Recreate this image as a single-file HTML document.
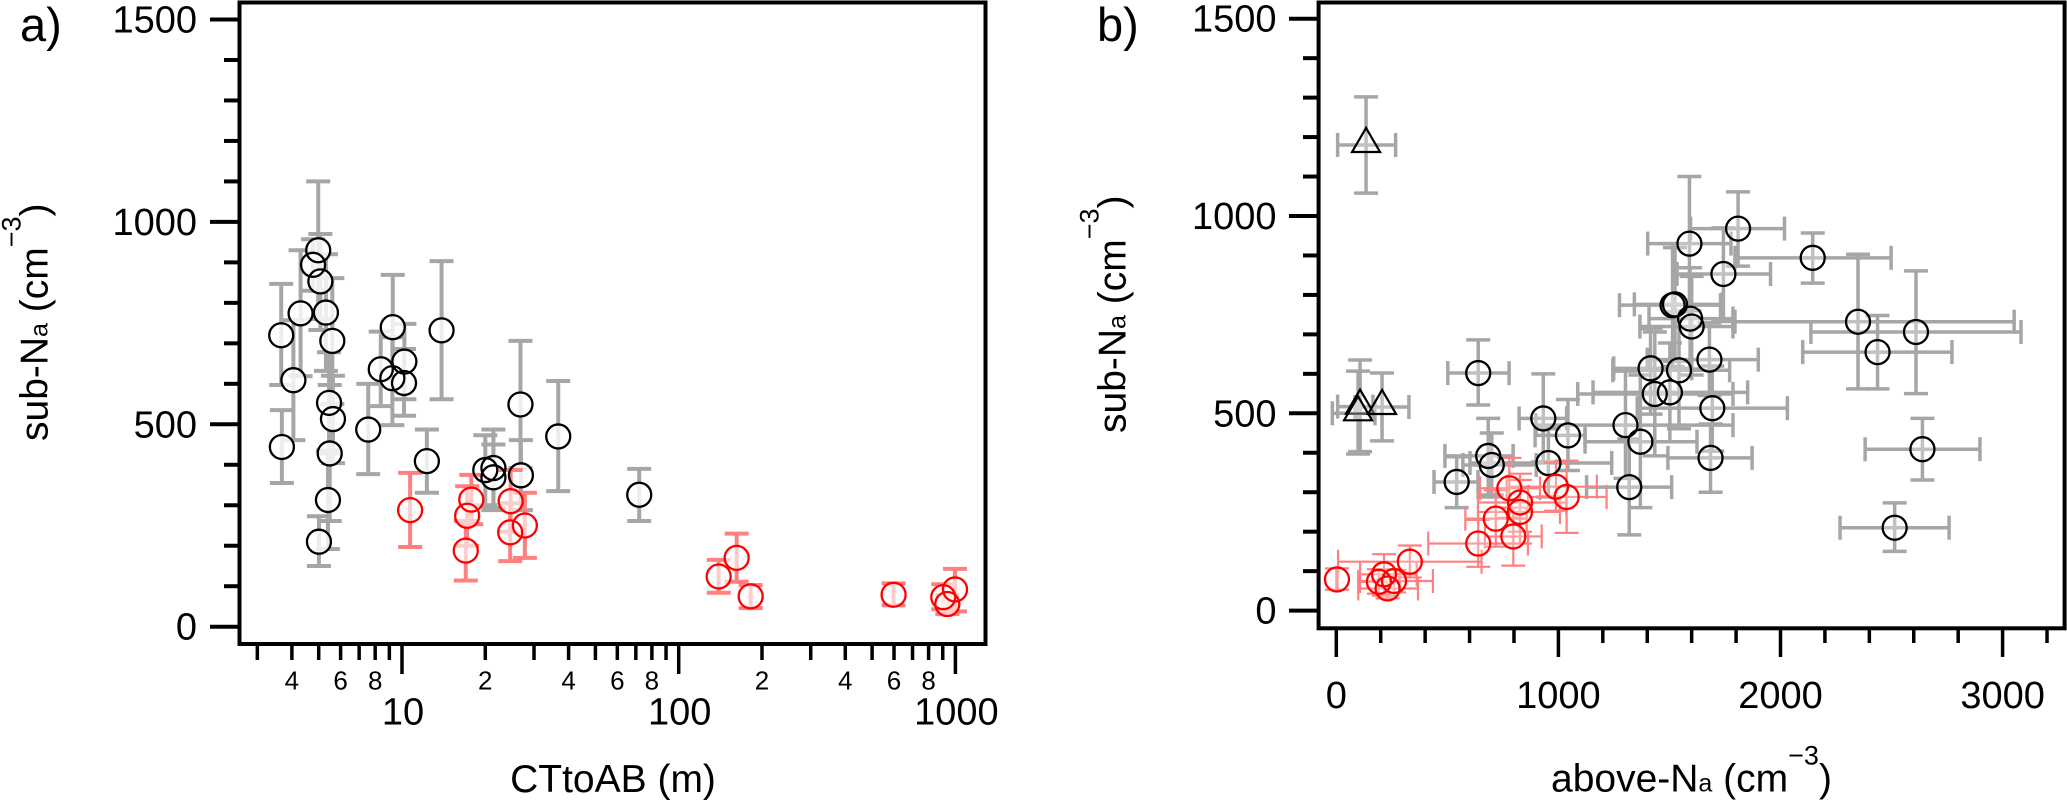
<!DOCTYPE html>
<html lang="en">
<head>
<meta charset="utf-8">
<title>sub-Na vs CTtoAB and above-Na</title>
<style>
  html, body { margin: 0; padding: 0; background: #fff; }
  svg { display: block; }
  text { font-family: "Liberation Sans", Arial, sans-serif; fill: #000; }
</style>
</head>
<body>
<svg id="chart" xmlns="http://www.w3.org/2000/svg" width="2067" height="801" viewBox="0 0 2067 801">
  <rect x="0" y="0" width="2067" height="801" fill="#fff"/>

  <g id="marks-a"></g>
  <g id="marks-b"></g>
  <g id="axes-a"></g>
  <g id="axes-b"></g>

  <rect x="239.5" y="2.5" width="746" height="641.5" fill="none" stroke="#000" stroke-width="4"/>
  <rect x="1318.6" y="2.5" width="746" height="625.8" fill="none" stroke="#000" stroke-width="4"/>

  <text x="20" y="41" font-size="47">a)</text>
  <text x="1097" y="41" font-size="47">b)</text>

  <text transform="translate(47.7,441) rotate(-90)" font-size="39">sub-N<tspan font-size="25">a</tspan> (cm<tspan font-size="27" dy="-27">−3</tspan><tspan dy="27">)</tspan></text>
  <text transform="translate(1125.7,433) rotate(-90)" font-size="39">sub-N<tspan font-size="25">a</tspan> (cm<tspan font-size="27" dy="-27">−3</tspan><tspan dy="27">)</tspan></text>
  <text x="613" y="792" font-size="39" text-anchor="middle">CTtoAB (m)</text>
  <text x="1551" y="791.7" font-size="39">above-N<tspan font-size="25">a</tspan> (cm<tspan font-size="27" dy="-27">−3</tspan><tspan dy="27">)</tspan></text>
</svg>

<script>
// ---- black circles (null CTtoAB: point appears only in panel b) ----
const blackCt      = [4.98, 4.77, 5.07, 4.30, 5.31, 3.66, 5.60, 9.26, 13.9, 10.2, 8.38, 9.23, 10.17, 4.05, 5.45, 5.63, 26.8, 3.68, 5.48, 7.55, 12.3, 36.7, 72, 26.9, 20, 21.4, 21.4, 5.40, 5.01, null];
const blackSub     = [930, 894, 853, 774, 776, 720, 706, 740, 732, 655, 636, 614, 602, 609, 553, 513, 549, 444, 428, 487, 409, 470, 326, 374, 387, 392, 369, 313, 210, 968];
const blackSubLo   = [760, 830, 733, 619, 632, 597, 550, 612, 562, 562, 545, 498, 521, 461, 428, 404, 392, 355, 261, 377, 331, 335, 261, 288, 300, 288, 293, 192, 150, 873];
const blackSubHi   = [1100, 957, 970, 930, 920, 847, 861, 869, 903, 748, 729, 715, 686, 757, 678, 620, 706, 535, 597, 600, 487, 607, 390, 461, 473, 487, 450, 435, 273, 1061];
const blackAbove   = [1590, 2145, 1743, 1514, 1525, 1600, 2610, 1593, 2349, 2437, 1680, 1415, 639, 1543, 1502, 1693, 1434, 1043, 1369, 932, 2639, 1302, 542, 955, 1685, 684, 700, 1319, 2514, 1809];
const blackAboveLo = [1402, 1795, 1534, 1275, 1342, 1367, 2137, 1408, 1795, 2100, 1400, 1249, 502, 1245, 1156, 1355, 1087, 895, 1120, 823, 2381, 899, 440, 602, 1493, 489, 570, 1127, 2268, 1595];
const blackAboveHi = [1777, 2498, 1955, 1730, 1737, 1786, 3083, 1786, 3052, 2772, 1900, 1600, 778, 1771, 1852, 2031, 1786, 1120, 1624, 1037, 2898, 1786, 638, 1240, 1872, 796, 900, 1510, 2759, 2018];

// ---- red circles ----
const redCt      = [10.7, 17.8, 17.2, 17.0, 24.7, 24.6, 27.8, 162, 139.5, 182, 598, 997, 904, 935];
const redSub     = [288, 314, 274, 188, 310, 233, 250, 170, 124, 75, 79, 92, 73, 56];
const redSubLo   = [197, 253, 200, 114, 235, 162, 170, 111, 84, 46, 53, 38, 43, 31];
const redSubHi   = [380, 375, 347, 261, 387, 305, 331, 230, 165, 103, 107, 143, 105, 78];
const redAbove   = [1037, 989, 827, 797, 779, 718, 827, 639, 331, 260, 3, 215, 192, 231];
const redAboveLo = [863, 767, 638, 669, 647, 581, 638, 414, 8, 107, 0, 107, 99, 99];
const redAboveHi = [1217, 1173, 1035, 925, 917, 857, 1007, 863, 654, 435, 6, 362, 286, 368];

// ---- triangles (panel b only) ----
const triAbove   = [134, 107, 98, 206];
const triAboveLo = [6, 6, -18, 84];
const triAboveHi = [267, 165, 174, 327];
const triSub     = [1180, 517, 500, 516];
const triSubLo   = [1058, 403, 397, 430];
const triSubHi   = [1302, 635, 607, 602];

// ---- ticks ----
const yMajorTicks = [0, 500, 1000, 1500];
const yMinorTicks = [100, 200, 300, 400, 600, 700, 800, 900, 1100, 1200, 1300, 1400];
const logMinorTicks = [3, 4, 5, 6, 7, 8, 9, 20, 30, 40, 50, 60, 70, 80, 90, 200, 300, 400, 500, 600, 700, 800, 900];
const logMinorLabels = [[4, "4"], [6, "6"], [8, "8"], [20, "2"], [40, "4"], [60, "6"], [80, "8"], [200, "2"], [400, "4"], [600, "6"], [800, "8"]];
const logMajorTicks = [10, 100, 1000];
const bXMajorTicks = [0, 1000, 2000, 3000];
const bXMinorTicks = [200, 400, 600, 800, 1200, 1400, 1600, 1800, 2200, 2400, 2600, 2800, 3200];

// ---- axis functions ----
function xA(v) { return 402 + 276.7 * (Math.log10(v) - 1); }
function yA(v) { return 626.7 - 0.4048 * v; }
function xB(v) { return 1336.3 + 0.2221 * v; }
function yB(v) { return 610.6 - 0.3946 * v; }

const NS = "http://www.w3.org/2000/svg";
function mk(parent, tag, attrs) {
  const el = document.createElementNS(NS, tag);
  for (const k in attrs) el.setAttribute(k, attrs[k]);
  parent.appendChild(el);
  return el;
}
function line(parent, x1, y1, x2, y2, color, width) {
  return mk(parent, "line", { x1: x1, y1: y1, x2: x2, y2: y2, stroke: color, "stroke-width": width });
}

const CAP = 12;
const GRAY = "#a6a6a6";
const PINK = "#ff8080";

function verticalError(parent, px, pyLo, pyHi, color, w) {
  const g = mk(parent, "g", {});
  
  
  line(g, px, pyLo, px, pyHi, color, w);
  line(g, px - CAP, pyLo, px + CAP, pyLo, color, w);
  line(g, px - CAP, pyHi, px + CAP, pyHi, color, w);
}
function horizontalError(parent, py, pxLo, pxHi, color, w) {
  const g = mk(parent, "g", {});
  
  
  line(g, pxLo, py, pxHi, py, color, w);
  line(g, pxLo, py - CAP, pxLo, py + CAP, color, w);
  line(g, pxHi, py - CAP, pxHi, py + CAP, color, w);
}
function circleHaze(parent, px, py, fillOpacity) {
  const c = mk(parent, "circle", { cx: px, cy: py, r: 11, fill: "#fff", "fill-opacity": fillOpacity, stroke: "none" });
  
  
}
function circleRing(parent, px, py, color, name) {
  const c = mk(parent, "circle", { cx: px, cy: py, r: 12, fill: "none", stroke: color, "stroke-width": 2.3 });
  
  
}
function triangleMark(parent, px, py) {
  const pts = (px) + "," + (py - 17) + " " + (px - 14) + "," + (py + 7) + " " + (px + 14) + "," + (py + 7);
  const p = mk(parent, "polygon", { points: pts, fill: "#fff", "fill-opacity": 0.3, stroke: "#000", "stroke-width": 2.2 });
  
  
}

// ---- panel a marks ----
const ma = document.getElementById("marks-a");
blackCt.forEach(function (ct, i) {
  if (ct === null) return;
  verticalError(ma, xA(ct), yA(blackSubLo[i]), yA(blackSubHi[i]), GRAY, 4);
});
blackCt.forEach(function (ct, i) {
  if (ct === null) return;
  circleHaze(ma, xA(ct), yA(blackSub[i]), 0.8);
});
redCt.forEach(function (ct, i) {
  verticalError(ma, xA(ct), yA(redSubLo[i]), yA(redSubHi[i]), PINK, 4);
});
redCt.forEach(function (ct, i) {
  circleHaze(ma, xA(ct), yA(redSub[i]), 0.6);
});
blackCt.forEach(function (ct, i) {
  if (ct === null) return;
  circleRing(ma, xA(ct), yA(blackSub[i]), "#000", "black-circle-point");
});
redCt.forEach(function (ct, i) {
  circleRing(ma, xA(ct), yA(redSub[i]), "#ff0000", "red-circle-point");
});

// ---- panel b marks ----
const mb = document.getElementById("marks-b");
blackAbove.forEach(function (v, i) {
  verticalError(mb, xB(v), yB(blackSubLo[i]), yB(blackSubHi[i]), GRAY, 3.5);
  horizontalError(mb, yB(blackSub[i]), xB(blackAboveLo[i]), xB(blackAboveHi[i]), GRAY, 3.5);
});
triAbove.forEach(function (v, i) {
  verticalError(mb, xB(v), yB(triSubLo[i]), yB(triSubHi[i]), GRAY, 3.5);
  horizontalError(mb, yB(triSub[i]), xB(triAboveLo[i]), xB(triAboveHi[i]), GRAY, 3.5);
});
blackAbove.forEach(function (v, i) {
  circleHaze(mb, xB(v), yB(blackSub[i]), 0.3);
});
redAbove.forEach(function (v, i) {
  verticalError(mb, xB(v), yB(redSubLo[i]), yB(redSubHi[i]), PINK, 2.2);
  horizontalError(mb, yB(redSub[i]), xB(redAboveLo[i]), xB(redAboveHi[i]), PINK, 2.2);
});
redAbove.forEach(function (v, i) {
  circleHaze(mb, xB(v), yB(redSub[i]), 0.25);
});
blackAbove.forEach(function (v, i) {
  circleRing(mb, xB(v), yB(blackSub[i]), "#000", "black-circle-point");
});
triAbove.forEach(function (v, i) {
  triangleMark(mb, xB(v), yB(triSub[i]));
});
redAbove.forEach(function (v, i) {
  circleRing(mb, xB(v), yB(redSub[i]), "#ff0000", "red-circle-point");
});

// ---- axes ----
function tickLabel(parent, x, y, str, size, anchor, name) {
  const t = mk(parent, "text", { x: x, y: y, "font-size": size, "text-anchor": anchor });
  t.textContent = str;
  
  
}
function tickMark(parent, x1, y1, x2, y2, w, name) {
  const l = line(parent, x1, y1, x2, y2, "#000", w);
  
  
}

const axA = document.getElementById("axes-a");
yMajorTicks.forEach(function (v) {
  tickMark(axA, 210, yA(v), 240, yA(v), 4, "y-major-tick");
  tickLabel(axA, 197, yA(v) + 13, String(v), 38, "end", "y-tick-label");
});
yMinorTicks.forEach(function (v) {
  tickMark(axA, 224, yA(v), 240, yA(v), 4, "y-minor-tick");
});
logMajorTicks.forEach(function (v) {
  tickMark(axA, xA(v), 644, xA(v), 674, 3.5, "x-major-tick");
  tickLabel(axA, xA(v) + 1, 724.3, String(v), 38, "middle", "x-tick-label");
});
logMinorTicks.forEach(function (v) {
  tickMark(axA, xA(v), 644, xA(v), 660, 3.5, "x-minor-tick");
});
logMinorLabels.forEach(function (p) {
  tickLabel(axA, xA(p[0]), 689.3, p[1], 26, "middle", "x-minor-tick-label");
});

const axB = document.getElementById("axes-b");
yMajorTicks.forEach(function (v) {
  tickMark(axB, 1289, yB(v), 1319, yB(v), 4, "y-major-tick");
  tickLabel(axB, 1276.5, yB(v) + 13, String(v), 38, "end", "y-tick-label");
});
yMinorTicks.forEach(function (v) {
  tickMark(axB, 1303, yB(v), 1319, yB(v), 4, "y-minor-tick");
});
bXMajorTicks.forEach(function (v) {
  tickMark(axB, xB(v), 628, xB(v), 657, 3.5, "x-major-tick");
  tickLabel(axB, xB(v), 708, String(v), 38, "middle", "x-tick-label");
});
bXMinorTicks.forEach(function (v) {
  tickMark(axB, xB(v), 628, xB(v), 643, 3.5, "x-minor-tick");
});
</script>
</body>
</html>
